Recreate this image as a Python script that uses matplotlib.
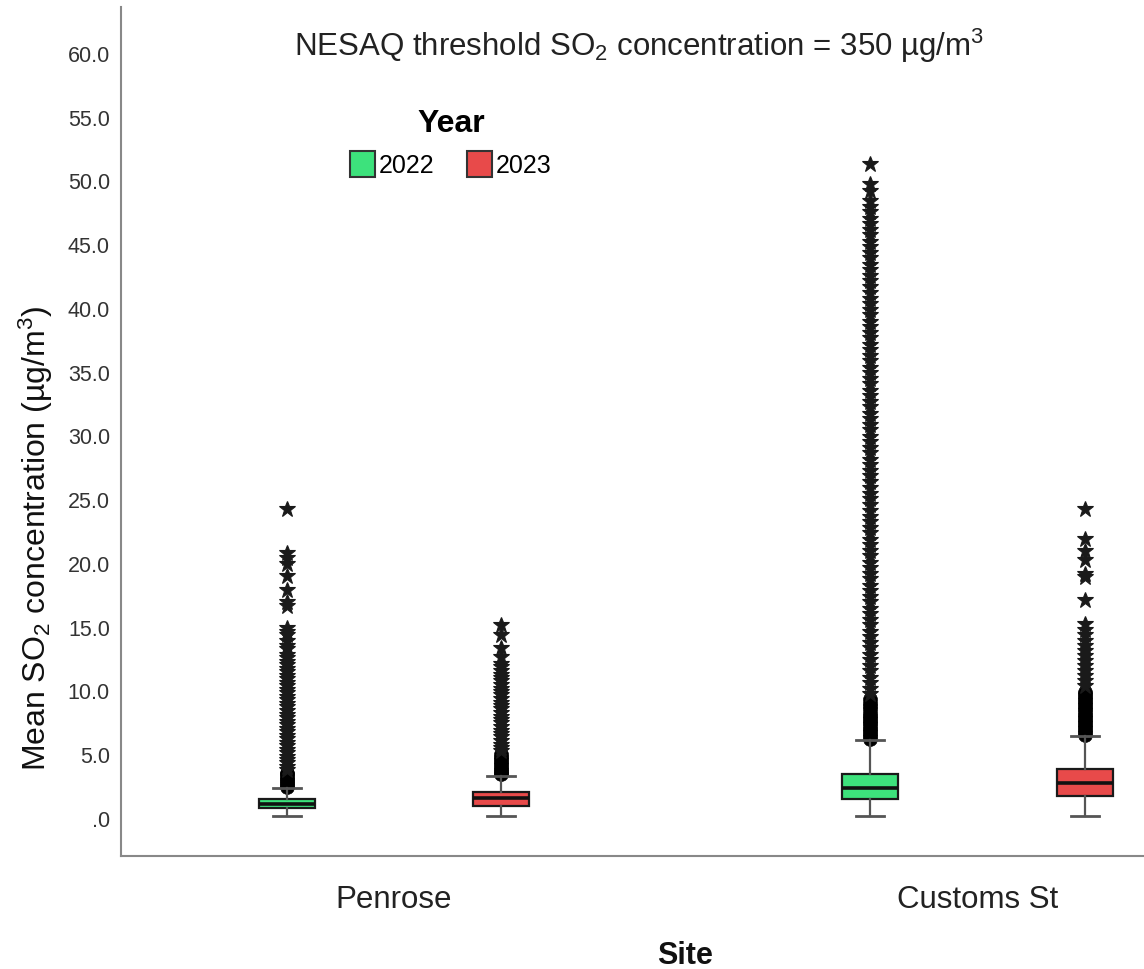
import matplotlib
matplotlib.use("Agg")
import matplotlib.pyplot as plt
from matplotlib.patches import Patch

plt.rcParams['font.family'] = ['Liberation Sans', 'DejaVu Sans']
plt.rcParams['mathtext.default'] = 'regular'

# ---------------- data ----------------
sites = ["Penrose", "Customs St"]
years = ["2022", "2023"]
colors = ["#3de27c", "#e84a4a"]

# box statistics [whisker low, Q1, median, Q3, whisker high]
penrose_2022_box = [0.1, 0.8, 1.1, 1.5, 2.3]
penrose_2023_box = [0.1, 0.94, 1.55, 2.0, 3.3]
customs_2022_box = [0.15, 1.5, 2.35, 3.45, 6.1]
customs_2023_box = [0.15, 1.7, 2.7, 3.8, 6.4]

penrose_2022_out = [2.4, 2.55, 2.7, 2.9, 3.05, 3.2, 3.4, 3.55, 3.75, 4.0, 4.3, 4.55,
                    4.8, 5.1, 5.35, 5.6, 5.9, 6.2, 6.45, 6.7, 7.0, 7.3, 7.55, 7.8,
                    8.1, 8.4, 8.65, 8.9, 9.2, 9.5, 9.75, 10.0, 10.3, 10.6, 10.85,
                    11.1, 11.4, 11.7, 11.95, 12.2, 12.5, 12.8, 13.2, 13.5, 13.9,
                    14.3, 14.6, 14.9, 16.6, 16.9, 17.9, 19.0, 19.9, 20.4, 20.8, 24.2]
penrose_2023_out = [3.4, 3.55, 3.7, 3.85, 4.0, 4.2, 4.4, 4.6, 4.8, 5.0, 5.2, 5.45,
                    5.7, 6.0, 6.3, 6.55, 6.8, 7.1, 7.4, 7.65, 7.9, 8.2, 8.5, 8.75,
                    9.0, 9.3, 9.6, 9.85, 10.1, 10.4, 10.7, 10.95, 11.2, 11.5, 11.8,
                    12.1, 12.6, 13.3, 14.3, 15.1]
customs_2022_out = [6.2, 6.4, 6.6, 6.8, 7.0, 7.2, 7.4, 7.6, 7.8, 8.0, 8.25, 8.5,
                    8.75, 9.0, 9.3, 9.7, 10.1, 10.6, 11.0, 11.5, 11.9, 12.4, 12.8,
                    13.3, 13.7, 14.2, 14.6, 15.1, 15.5, 16.0, 16.4, 16.9, 17.3,
                    17.8, 18.2, 18.7, 19.1, 19.6, 20.0, 20.5, 20.9, 21.4, 21.8,
                    22.3, 22.7, 23.2, 23.6, 24.1, 24.5, 25.0, 25.4, 25.9, 26.3,
                    26.8, 27.2, 27.7, 28.1, 28.6, 29.0, 29.5, 29.9, 30.4, 30.8,
                    31.3, 31.7, 32.2, 32.6, 33.1, 33.5, 34.0, 34.4, 34.9, 35.3,
                    35.8, 36.2, 36.7, 37.1, 37.6, 38.0, 38.5, 38.9, 39.4, 39.8,
                    40.3, 40.7, 41.2, 41.6, 42.1, 42.5, 43.0, 43.4, 43.9, 44.3,
                    44.8, 45.2, 45.7, 46.1, 46.6, 47.0, 47.5, 47.9, 48.4, 49.2,
                    49.7, 51.3]
customs_2023_out = [6.5, 6.7, 6.9, 7.1, 7.3, 7.5, 7.7, 7.9, 8.1, 8.3, 8.5, 8.7,
                    8.9, 9.1, 9.3, 9.5, 9.7, 9.9, 10.3, 10.7, 11.1, 11.5, 11.9,
                    12.3, 12.7, 13.1, 13.5, 13.9, 14.3, 14.7, 15.2, 17.1, 18.9,
                    19.1, 20.2, 20.9, 21.9, 24.2]

y_ticks = [0, 5, 10, 15, 20, 25, 30, 35, 40, 45, 50, 55, 60]
y_tick_labels = [".0", "5.0", "10.0", "15.0", "20.0", "25.0", "30.0", "35.0",
                 "40.0", "45.0", "50.0", "55.0", "60.0"]

boxes = [[penrose_2022_box, penrose_2023_box], [customs_2022_box, customs_2023_box]]
outs = [[penrose_2022_out, penrose_2023_out], [customs_2022_out, customs_2023_out]]

# ---------------- figure ----------------
fig = plt.figure(figsize=(11.44, 9.70), dpi=100)
ax = fig.add_axes([121 / 1144, 113 / 970, 1 - 121 / 1144, (857 - 8) / 970])

offset = 0.184
width = 0.096
for si, site in enumerate(sites):
    for yi, year in enumerate(years):
        pos = si + (-offset if yi == 0 else offset)
        wl, q1, med, q3, wh = boxes[si][yi]
        stats = [dict(whislo=wl, q1=q1, med=med, q3=q3, whishi=wh, fliers=[])]
        ax.bxp(stats, positions=[pos], widths=width, capwidths=width / 2,
               showfliers=False, patch_artist=True,
               boxprops=dict(facecolor=colors[yi], edgecolor='#1a1a1a', linewidth=1.6),
               medianprops=dict(color='#111111', linewidth=2.6),
               whiskerprops=dict(color='#555555', linewidth=1.6),
               capprops=dict(color='#555555', linewidth=2.0),
               zorder=3)
        limit = q3 + 3 * (q3 - q1)
        mild = [v for v in outs[si][yi] if v <= limit]
        extreme = [v for v in outs[si][yi] if v > limit]
        ax.plot([pos] * len(mild), mild, linestyle='none', marker='o',
                markersize=10, markerfacecolor='black', markeredgecolor='black',
                markeredgewidth=0.5, zorder=2)
        ax.plot([pos] * len(extreme), extreme, linestyle='none', marker='*',
                markersize=12, markerfacecolor='#1a1a1a', markeredgecolor='#1a1a1a',
                markeredgewidth=0.8, zorder=2)

ax.set_xlim(-0.468, 1.286)
ax.set_ylim(-3.0, 63.6)
ax.set_xticks(range(len(sites)))
ax.set_xticklabels(sites, fontsize=22.5, color='#222222')
ax.set_yticks(y_ticks)
ax.set_yticklabels(y_tick_labels, fontsize=15.5, color='#333333')
ax.tick_params(axis='both', length=0)
ax.tick_params(axis='x', pad=20)
ax.tick_params(axis='y', pad=8)
for s in ['top', 'right']:
    ax.spines[s].set_visible(False)
for s in ['left', 'bottom']:
    ax.spines[s].set_color('#888888')
    ax.spines[s].set_linewidth(1.5)

fig.text(639 / 1144, 1 - 46 / 970, r"NESAQ threshold SO$_2$ concentration = 350 µg/m$^3$",
         ha='center', va='center', fontsize=22.5, color='#222222')
fig.text(36 / 1144, 1 - 538 / 970, r"Mean SO$_2$ concentration (µg/m$^3$)",
         rotation=90, ha='center', va='center', fontsize=23, color='#111111',
         family=['Liberation Sans Narrow', 'Liberation Sans', 'DejaVu Sans'])
fig.text(685 / 1144, 1 - 956 / 970, "Site", ha='center', va='center',
         fontsize=22, fontweight='bold', color='#111111')

handles = [Patch(facecolor=colors[i], edgecolor='#333333', linewidth=1.5, label=years[i])
           for i in range(len(years))]
leg = fig.legend(handles=handles, title="Year", ncol=2, frameon=False,
                 loc='upper center', bbox_to_anchor=(451 / 1144, 1 - 87 / 970),
                 fontsize=18, title_fontproperties=dict(size=23, weight='bold'),
                 handlelength=1.0, handleheight=1.2, handletextpad=0.15,
                 columnspacing=1.3)

fig.savefig("out.png", dpi=100)
